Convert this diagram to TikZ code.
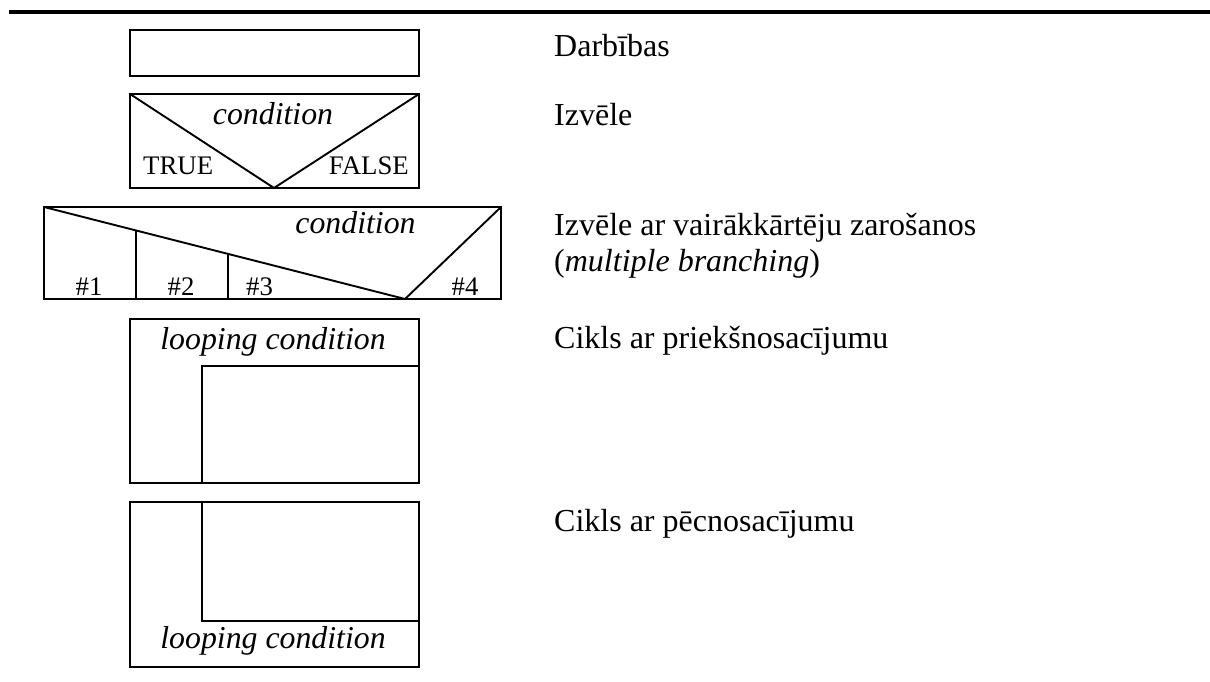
\documentclass[tikz,border=0pt]{standalone}
\usepackage{fontspec}
\setmainfont{Liberation Serif}
\usetikzlibrary{calc}
\begin{document}
\begin{tikzpicture}[x=1pt,y=-1pt,
  box/.style={draw=black,line width=1.9pt},
  big/.style={inner sep=0pt,font=\fontsize{32}{38}\selectfont},
  bigit/.style={inner sep=0pt,font=\fontsize{31.8}{38}\selectfont\itshape},
  small/.style={inner sep=0pt,font=\fontsize{26.8}{32}\selectfont},
  desc/.style={big,anchor=base west}]
\useasboundingbox (0,0) rectangle (1210,682);
% top rule
\coordinate (rl) at (9,12);
\coordinate (rr) at (1210,12);
\draw[line width=4.5pt] (rl) -- (rr);

% 1: action
\draw[box] (130,30) rectangle (419,76);

% 2: choice
\coordinate (c2tl) at (130,94);
\coordinate (c2tr) at (419,94);
\coordinate (c2v) at (274,188);
\draw[box] (c2tl) rectangle (419,188);
\draw[box,line join=miter] (c2tl) -- (c2v) -- (c2tr);
\node[bigit,anchor=base] (cond2) at (273,125) {condition};
\node[small,anchor=base west] (true) at (143,175) {TRUE};
\node[small,anchor=base east] (false) at (409,175) {FALSE};

% 3: multiple branching
\coordinate (m3tl) at (44,207);
\coordinate (m3tr) at (501,207);
\coordinate (m3v) at (405,299);
\draw[box] (m3tl) rectangle (501,299);
\draw[box] (m3tl) -- (m3v) -- (m3tr);
\draw[box] ($(m3tl)!0.2548!(m3v)$) -- (136,299);
\draw[box] ($(m3tl)!0.5097!(m3v)$) -- (228,299);
\node[bigit,anchor=base] (cond3) at (355.5,233) {condition};
\node[small,anchor=base] (b1) at (89,295) {\#1};
\node[small,anchor=base] (b2) at (181,295) {\#2};
\node[small,anchor=base west] (b3) at (246,295) {\#3};
\node[small,anchor=base] (b4) at (465,295) {\#4};

% 4: pre-condition loop
\draw[box] (130,319) rectangle (419,483);
\draw[box] (202,483) -- (202,366) -- (419,366);
\node[bigit,anchor=base] (loop4) at (273,349) {looping condition};

% 5: post-condition loop
\draw[box] (130,502) rectangle (419,667);
\draw[box] (202,502) -- (202,621) -- (419,621);
\node[bigit,anchor=base] (loop5) at (273,648) {looping condition};

% descriptions
\node[desc] (d1) at (554,57) {Darbības};
\node[desc] (d2) at (554,126) {Izvēle};
\node[desc] (d3) at (554,235) {Izvēle ar vairākkārtēju zarošanos};
\node[desc] (d3b) at (554,271) {(\textit{multiple branching})};
\node[desc] (d4) at (554,348) {Cikls ar priekšnosacījumu};
\node[desc] (d5) at (554,531) {Cikls ar pēcnosacījumu};
\end{tikzpicture}
\end{document}
